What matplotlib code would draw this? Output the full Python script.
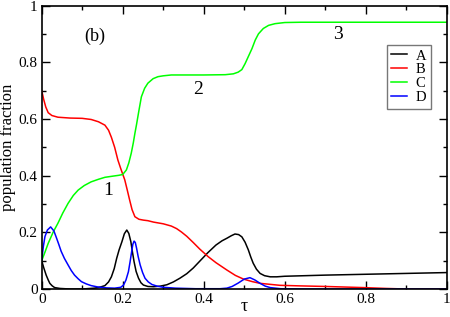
import matplotlib

matplotlib.use("Agg")
import matplotlib.pyplot as plt
from matplotlib.ticker import MultipleLocator

plt.rcParams["font.family"] = ["Liberation Serif", "DejaVu Serif"]

# species A (black)
tau_a = [0.000, 0.005, 0.011, 0.016, 0.020, 0.026, 0.032, 0.045, 0.070, 0.100,
         0.130, 0.145, 0.156, 0.165, 0.172, 0.179, 0.185, 0.191, 0.198, 0.204,
         0.210, 0.215, 0.220, 0.224, 0.228, 0.233, 0.239, 0.245, 0.251, 0.262,
         0.276, 0.292, 0.309, 0.325, 0.341, 0.358, 0.374, 0.390, 0.410, 0.430,
         0.445, 0.457, 0.468, 0.477, 0.486, 0.494, 0.502, 0.510, 0.516, 0.522,
         0.530, 0.539, 0.550, 0.564, 0.580, 0.600, 0.700, 0.800, 0.900, 1.000]
pop_a = [0.100, 0.075, 0.049, 0.032, 0.020, 0.011, 0.005, 0.002, 0.000, 0.000,
         0.003, 0.007, 0.012, 0.025, 0.043, 0.072, 0.108, 0.138, 0.167, 0.195,
         0.208, 0.196, 0.167, 0.130, 0.096, 0.062, 0.038, 0.022, 0.014, 0.009,
         0.008, 0.010, 0.015, 0.025, 0.038, 0.054, 0.074, 0.098, 0.128, 0.155,
         0.170, 0.179, 0.188, 0.194, 0.192, 0.184, 0.165, 0.138, 0.113, 0.091,
         0.070, 0.055, 0.047, 0.043, 0.043, 0.045, 0.049, 0.052, 0.055, 0.058]

# species B (red)
tau_b = [0.000, 0.005, 0.010, 0.016, 0.025, 0.040, 0.070, 0.100, 0.122, 0.140,
         0.156, 0.165, 0.172, 0.180, 0.188, 0.195, 0.200, 0.205, 0.211, 0.217,
         0.223, 0.230, 0.240, 0.251, 0.262, 0.276, 0.300, 0.320, 0.333, 0.345,
         0.358, 0.374, 0.390, 0.411, 0.430, 0.457, 0.478, 0.498, 0.520, 0.539,
         0.588, 0.638, 0.700, 0.794, 0.850, 0.900, 1.000]
pop_b = [0.700, 0.668, 0.642, 0.622, 0.612, 0.606, 0.603, 0.602, 0.598, 0.590,
         0.578, 0.560, 0.535, 0.500, 0.455, 0.425, 0.405, 0.385, 0.350, 0.314,
         0.280, 0.255, 0.246, 0.243, 0.241, 0.236, 0.230, 0.222, 0.213, 0.201,
         0.186, 0.164, 0.141, 0.114, 0.093, 0.067, 0.048, 0.035, 0.026, 0.020,
         0.013, 0.011, 0.009, 0.005, 0.002, 0.000, 0.000]

# species C (green)
tau_c = [0.000, 0.008, 0.016, 0.028, 0.040, 0.052, 0.065, 0.078, 0.090, 0.105,
         0.122, 0.140, 0.156, 0.175, 0.190, 0.200, 0.209, 0.215, 0.221, 0.226,
         0.230, 0.234, 0.240, 0.246, 0.254, 0.262, 0.275, 0.287, 0.300, 0.320,
         0.400, 0.453, 0.473, 0.485, 0.494, 0.502, 0.510, 0.519, 0.527, 0.535,
         0.547, 0.560, 0.576, 0.600, 0.640, 1.000]
pop_c = [0.100, 0.130, 0.161, 0.200, 0.232, 0.268, 0.302, 0.330, 0.349, 0.365,
         0.378, 0.387, 0.394, 0.398, 0.401, 0.404, 0.420, 0.445, 0.479, 0.515,
         0.549, 0.580, 0.630, 0.678, 0.708, 0.726, 0.742, 0.749, 0.752, 0.755,
         0.755, 0.756, 0.759, 0.765, 0.774, 0.795, 0.820, 0.848, 0.878, 0.900,
         0.919, 0.930, 0.936, 0.940, 0.941, 0.941]

# species D (blue)
tau_d = [0.000, 0.004, 0.008, 0.014, 0.022, 0.030, 0.036, 0.042, 0.048, 0.056,
         0.065, 0.073, 0.081, 0.090, 0.098, 0.110, 0.122, 0.139, 0.160, 0.180,
         0.195, 0.202, 0.208, 0.214, 0.218, 0.222, 0.225, 0.228, 0.231, 0.234,
         0.238, 0.243, 0.249, 0.255, 0.263, 0.272, 0.285, 0.300, 0.330, 0.380,
         0.440, 0.457, 0.470, 0.485, 0.500, 0.514, 0.526, 0.539, 0.552, 0.564,
         0.590, 0.650, 1.000]
pop_d = [0.102, 0.150, 0.185, 0.208, 0.219, 0.205, 0.182, 0.158, 0.133, 0.108,
         0.085, 0.065, 0.049, 0.036, 0.026, 0.018, 0.012, 0.007, 0.004, 0.003,
         0.006, 0.014, 0.032, 0.061, 0.095, 0.132, 0.158, 0.169, 0.164, 0.145,
         0.115, 0.085, 0.058, 0.038, 0.025, 0.016, 0.010, 0.006, 0.003, 0.001,
         0.001, 0.003, 0.009, 0.021, 0.035, 0.040, 0.032, 0.020, 0.010, 0.005,
         0.001, 0.000, 0.000]

tick_vals = [0, 0.2, 0.4, 0.6, 0.8, 1]
tick_labels = ["0", "0.2", "0.4", "0.6", "0.8", "1"]

fig = plt.figure(figsize=(4.5, 3.17), dpi=100)
ax = fig.add_axes([0.0927, 0.0883, 0.9003, 0.8943])

ax.plot(tau_a, pop_a, color="black", lw=1.1, label="A")
ax.plot(tau_b, pop_b, color="#ff0000", lw=1.1, label="B")
ax.plot(tau_c, pop_c, color="#00ff00", lw=1.1, label="C")
ax.plot(tau_d, pop_d, color="#0000ff", lw=1.1, label="D")

ax.set_xlim(0, 1)
ax.set_ylim(0, 1)
ax.set_xticks(tick_vals)
ax.set_xticklabels(tick_labels)
ax.set_yticks(tick_vals)
ax.set_yticklabels(tick_labels)
ax.xaxis.set_minor_locator(MultipleLocator(0.1))
ax.yaxis.set_minor_locator(MultipleLocator(0.1))
ax.tick_params(which="both", direction="in", top=True, right=True, labelsize=11, pad=3)
ax.tick_params(which="major", length=6, width=1.0)
ax.tick_params(which="minor", length=3, width=1.0)
for s in ax.spines.values():
    s.set_linewidth(1.2)

ax.set_xlabel("τ", fontsize=13)
ax.xaxis.set_label_coords(0.5, -0.03)
ax.set_ylabel("population fraction", fontsize=12, labelpad=2)

ax.text(0.131, 0.89, "(b)", fontsize=13, ha="center", va="center")
ax.text(0.164, 0.349, "1", fontsize=14, ha="center", va="center")
ax.text(0.387, 0.702, "2", fontsize=14, ha="center", va="center")
ax.text(0.732, 0.896, "3", fontsize=14, ha="center", va="center")

leg = ax.legend(loc="upper right", bbox_to_anchor=(0.9605, 0.861), fontsize=10.5,
                frameon=True, fancybox=False, handlelength=1.1, handletextpad=0.6,
                borderpad=0.3, labelspacing=0.05, borderaxespad=0)
leg.get_frame().set_edgecolor("#555555")
leg.get_frame().set_linewidth(1.0)

fig.savefig("out.png", dpi=100)
